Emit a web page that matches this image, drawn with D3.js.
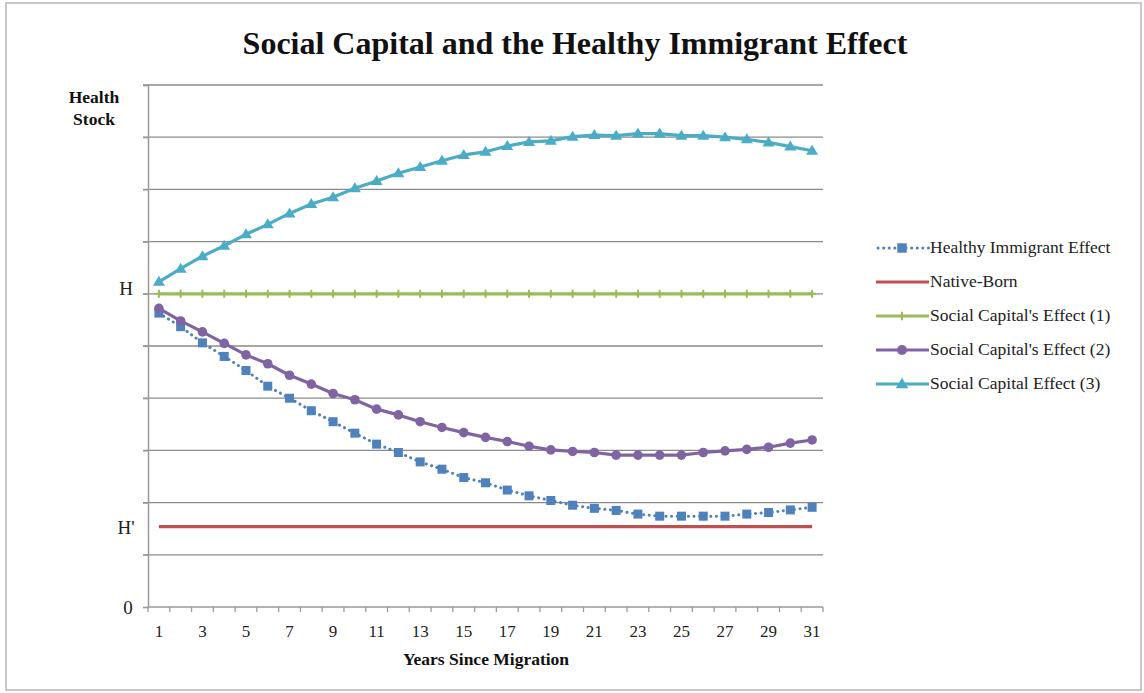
<!DOCTYPE html>
<html>
<head>
<meta charset="utf-8">
<script src="https://cdn.jsdelivr.net/npm/d3@7"></script>
<style>
  html, body { margin: 0; padding: 0; background: #fff; }
  svg { display: block; }
</style>
</head>
<body>
<svg id="chart" width="1144" height="693"></svg>
<script>
// Years since migration (categories)
const years = d3.range(1, 32);

// Health stock values per year for each series
const healthyImmigrant = [5.63, 5.37, 5.06, 4.80, 4.53, 4.23, 4.00, 3.76, 3.55, 3.33,
  3.12, 2.96, 2.78, 2.64, 2.48, 2.38, 2.24, 2.13, 2.04, 1.95,
  1.89, 1.85, 1.78, 1.74, 1.74, 1.74, 1.74, 1.78, 1.81, 1.86, 1.91];
const nativeBorn = years.map(() => 1.54);
const socialCapital1 = years.map(() => 6);
const socialCapital2 = [5.72, 5.48, 5.27, 5.05, 4.83, 4.66, 4.44, 4.27, 4.09, 3.97,
  3.79, 3.68, 3.55, 3.44, 3.34, 3.25, 3.17, 3.08, 3.01, 2.98,
  2.96, 2.91, 2.91, 2.91, 2.91, 2.96, 2.99, 3.02, 3.06, 3.14, 3.20];
const socialCapital3 = [6.23, 6.48, 6.72, 6.92, 7.14, 7.33, 7.54, 7.72, 7.85, 8.02,
  8.16, 8.31, 8.43, 8.55, 8.66, 8.72, 8.83, 8.91, 8.93, 9.01,
  9.04, 9.03, 9.07, 9.07, 9.03, 9.03, 9.00, 8.96, 8.90, 8.82, 8.74];

// Labelled y ticks
const yTickValues = [0, 1.54, 6];
const yTickLabels = ["0", "H'", "H"];
const gridValues = d3.range(0, 11);

const seriesNames = ["Healthy Immigrant Effect", "Native-Born", "Social Capital's Effect (1)",
  "Social Capital's Effect (2)", "Social Capital Effect (3)"];
const seriesColors = ["#4F81BD", "#C0504D", "#9BBB59", "#8064A2", "#4BACC6"];
const seriesMarkers = ["square", "none", "plus", "circle", "triangle"];
const seriesData = [healthyImmigrant, nativeBorn, socialCapital1, socialCapital2, socialCapital3];

const svg = d3.select("#chart");
const font = "'Liberation Serif', 'Times New Roman', serif";

// Outer frame
svg.append("rect")
  .attr("x", 6).attr("y", 3).attr("width", 1135).attr("height", 687)
  .attr("fill", "#fff").attr("stroke", "#c8c8c8").attr("stroke-width", 2);

const plot = { left: 148, right: 823, top: 85, bottom: 607 };

const x = d3.scaleBand().domain(years).range([plot.left, plot.right]);
const xc = d => x(d) + x.bandwidth() / 2;
const y = d3.scaleLinear().domain([0, 10]).range([plot.bottom, plot.top]);

// Title
svg.append("text")
  .attr("x", 575).attr("y", 54)
  .attr("text-anchor", "middle")
  .attr("font-family", font).attr("font-weight", "bold").attr("font-size", 32)
  .attr("fill", "#111")
  .text("Social Capital and the Healthy Immigrant Effect");

// Horizontal gridlines
svg.append("g").selectAll("line").data(gridValues.filter(v => v > 0)).join("line")
  .attr("x1", plot.left - 5).attr("x2", plot.right)
  .attr("y1", d => y(d)).attr("y2", d => y(d))
  .attr("stroke", "#8a8a8a").attr("stroke-width", 1.3);

// Y axis
const yAxis = svg.append("g").attr("transform", `translate(${plot.left},0)`)
  .call(d3.axisLeft(y).tickValues(gridValues).tickSize(5).tickFormat(""));
yAxis.select(".domain").attr("stroke", "#9a9a9a").attr("stroke-width", 1.5);
yAxis.selectAll(".tick line").attr("stroke", "#9a9a9a").attr("stroke-width", 1.3);

svg.append("g").selectAll("text").data(yTickValues).join("text")
  .attr("x", (d, i) => i === 0 ? 128 : 126)
  .attr("y", d => y(d) + (d === 6 ? 1 : 7))
  .attr("text-anchor", "middle")
  .attr("font-family", font).attr("font-size", 19).attr("fill", "#222")
  .text((d, i) => yTickLabels[i]);

// Y axis title
svg.append("text")
  .attr("font-family", font).attr("font-weight", "bold").attr("font-size", 17.5)
  .attr("text-anchor", "middle").attr("fill", "#111")
  .selectAll("tspan").data(["Health", "Stock"]).join("tspan")
  .attr("x", 94).attr("y", (d, i) => 103 + i * 22).text(d => d);

// X axis with tick marks at category boundaries
const boundaries = years.map(d => x(d)).concat([plot.right]);
const xAxisG = svg.append("g");
xAxisG.append("line")
  .attr("x1", plot.left).attr("x2", plot.right)
  .attr("y1", plot.bottom).attr("y2", plot.bottom)
  .attr("stroke", "#9a9a9a").attr("stroke-width", 1.5);
xAxisG.selectAll("line.tk").data(boundaries).join("line").attr("class", "tk")
  .attr("x1", d => d).attr("x2", d => d)
  .attr("y1", plot.bottom).attr("y2", plot.bottom + 5)
  .attr("stroke", "#9a9a9a").attr("stroke-width", 1.3);
xAxisG.selectAll("text").data(years.filter(d => d % 2 === 1)).join("text")
  .attr("x", d => xc(d)).attr("y", 637)
  .attr("text-anchor", "middle")
  .attr("font-family", font).attr("font-size", 17).attr("fill", "#222")
  .text(d => d);

// X axis title
svg.append("text")
  .attr("x", 486).attr("y", 665)
  .attr("text-anchor", "middle")
  .attr("font-family", font).attr("font-weight", "bold").attr("font-size", 17.5)
  .attr("fill", "#111")
  .text("Years Since Migration");

// Marker drawing
function drawMarker(g, type, color, cx, cy, scale) {
  const s = scale || 1;
  if (type === "square") {
    g.append("rect").attr("x", cx - 4.5 * s).attr("y", cy - 4.5 * s)
      .attr("width", 9 * s).attr("height", 9 * s).attr("fill", color);
  } else if (type === "circle") {
    g.append("circle").attr("cx", cx).attr("cy", cy).attr("r", 4.8 * s).attr("fill", color);
  } else if (type === "triangle") {
    const h = 10 * s;
    g.append("path")
      .attr("d", `M${cx},${cy - h * 0.6} L${cx + h * 0.6},${cy + h * 0.4} L${cx - h * 0.6},${cy + h * 0.4} Z`)
      .attr("fill", color);
  } else if (type === "plus") {
    g.append("line").attr("x1", cx).attr("x2", cx).attr("y1", cy - 4 * s).attr("y2", cy + 4 * s)
      .attr("stroke", color).attr("stroke-width", 2);
    g.append("line").attr("x1", cx - 4 * s).attr("x2", cx + 4 * s).attr("y1", cy).attr("y2", cy)
      .attr("stroke", color).attr("stroke-width", 2);
  }
}

const line = d3.line().x((d, i) => xc(years[i])).y(d => y(d));

// Series lines and markers (draw order: green, red, teal, blue, purple)
const order = [2, 1, 4, 0, 3];
order.forEach(si => {
  const g = svg.append("g");
  const data = seriesData[si];
  const color = seriesColors[si];
  const path = g.append("path").datum(data)
    .attr("d", line).attr("fill", "none")
    .attr("stroke", color).attr("stroke-width", si === 0 ? 3 : 3.2)
    .attr("stroke-linejoin", "round");
  if (si === 0) path.attr("stroke-dasharray", "0.1 5.5").attr("stroke-linecap", "round");
  if (seriesMarkers[si] !== "none") {
    data.forEach((v, i) => drawMarker(g, seriesMarkers[si], color, xc(years[i]), y(v)));
  }
});

// Legend
const legend = svg.append("g");
seriesNames.forEach((name, i) => {
  const ly = 248 + i * 34;
  const g = legend.append("g");
  const color = seriesColors[i];
  const ln = g.append("line").attr("x1", 876).attr("x2", 929).attr("y1", ly).attr("y2", ly)
    .attr("stroke", color).attr("stroke-width", 3);
  if (i === 0) ln.attr("stroke-dasharray", "0.1 5.5").attr("stroke-linecap", "round").attr("x1", 878);
  if (seriesMarkers[i] !== "none") drawMarker(g, seriesMarkers[i], color, 902, ly, 1.05);
  g.append("text").attr("x", 930).attr("y", ly + 5)
    .attr("font-family", font).attr("font-size", 17.5).attr("fill", "#222")
    .text(name);
});
</script>
</body>
</html>
